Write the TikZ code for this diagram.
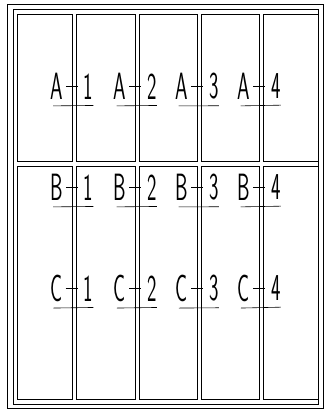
\documentclass[tikz,border=0pt]{standalone}
\usepackage{graphicx}

\tikzset{
  frame/.style={black, line width=1pt},
  pane/.style={black, line width=1pt},
  tag/.style={inner sep=0pt, font=\sffamily\fontsize{20}{20}\selectfont},
  tagline/.style={black, line width=0.6pt}
}
\newcommand{\tallglyph}[1]{\scalebox{1}[1.9]{#1}}

\begin{document}
\begin{tikzpicture}[x=1pt, y=-1pt]
\useasboundingbox (0,0) rectangle (327,411);

% outer frame
\draw[frame] (7,5) rectangle (323,408);
\draw[frame] (13,10) rectangle (318,404);

% panes
\foreach \xa/\xb in {17/72, 76/135, 139/197, 201/259, 263/318} {
  \draw[pane] (\xa,15) rectangle (\xb,162);
  \draw[pane] (\xa,167) rectangle (\xb,399);
}

% pane marks
\foreach \row/\y in {A/86.5, B/187.5, C/288.5} {
  \foreach \col/\x in {1/73.5, 2/137, 3/199, 4/261} {
    \node[tag] (\row\col L) at (\x-17,\y) {\tallglyph{\row}};
    \node[tag] (\row\col N) at (\x+15,\y) {\tallglyph{\col}};
    \draw[tagline] ([xshift=3pt]\row\col L.east) -- ([xshift=-6pt]\row\col N.west);
    \draw[tagline] ([shift={(3pt,-6pt)}]\row\col L.south west) -- ([yshift=-6pt]\row\col N.south east);
  }
}
\end{tikzpicture}
\end{document}
